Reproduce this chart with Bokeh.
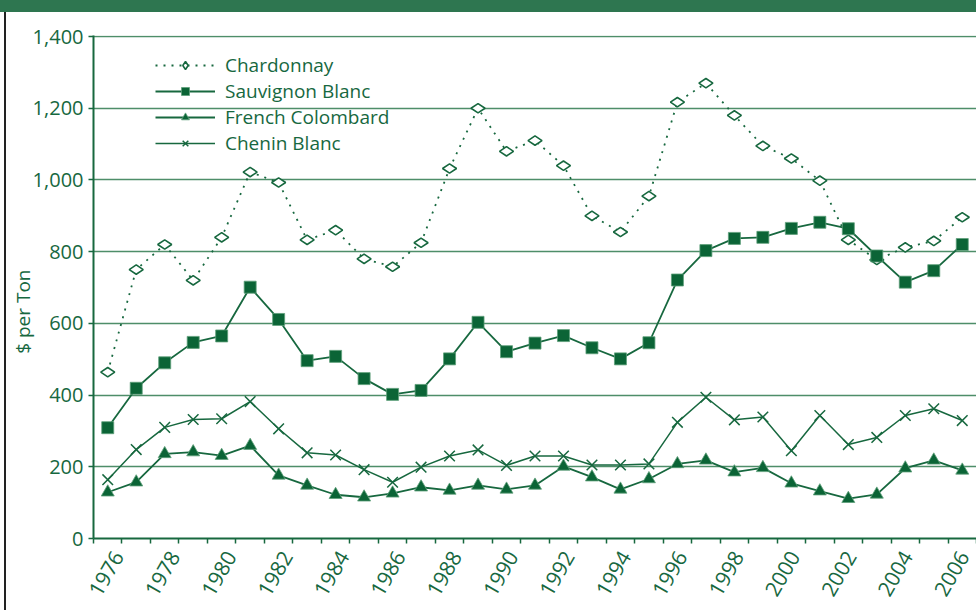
from bokeh.plotting import figure
from bokeh.models import Range1d, FixedTicker, NumeralTickFormatter, Legend, Div
from bokeh.layouts import column, row
from bokeh.embed import file_html
from bokeh.resources import INLINE
import math

years = list(range(1976, 2007))
chardonnay = [464, 750, 820, 720, 840, 1022, 993, 833, 860, 780, 758, 825, 1032, 1200, 1080,
              1110, 1040, 900, 855, 955, 1217, 1270, 1180, 1095, 1060, 998, 833, 777, 812, 830, 896]
sauvignon_blanc = [309, 419, 490, 547, 565, 701, 611, 496, 508, 446, 402, 413, 501, 603, 521,
                   545, 566, 532, 501, 546, 721, 803, 837, 840, 865, 882, 864, 788, 715, 747, 820]
french_colombard = [129, 157, 236, 241, 231, 259, 176, 148, 122, 115, 126, 143, 134, 148, 137,
                    148, 201, 171, 137, 166, 208, 218, 185, 197, 154, 132, 111, 123, 196, 218, 190]
chenin_blanc = [164, 248, 310, 332, 334, 382, 306, 239, 233, 192, 157, 199, 230, 247, 204,
                230, 230, 205, 205, 208, 324, 394, 331, 339, 245, 343, 262, 282, 343, 362, 329]
label_years = list(range(1976, 2007, 2))
y_ticks = [0, 200, 400, 600, 800, 1000, 1200, 1400]

GREEN = "#17683f"
MARK = "#0b6436"
FONT = "Open Sans"

banner = Div(text="", width=976, height=12,
             styles={"background-color": "#2e7650", "margin": "0", "padding": "0"})
gap = Div(text="", width=4, height=598, styles={"margin": "0", "padding": "0"})
edge = Div(text="", width=2, height=598,
           styles={"background-color": "#222222", "margin": "0", "padding": "0"})

p = figure(width=970, height=598, output_backend="svg", toolbar_location=None,
           x_range=Range1d(1975.5, 2006.5), y_range=Range1d(0, 1403),
           min_border_left=87, min_border_right=0, min_border_top=23, min_border_bottom=72)
p.outline_line_color = None
p.background_fill_color = "white"
p.border_fill_color = "white"

p.xgrid.grid_line_color = None
p.ygrid.ticker = FixedTicker(ticks=y_ticks[1:])
p.ygrid.grid_line_color = "#2f7a4f"
p.ygrid.grid_line_width = 1.5
p.ygrid.grid_line_alpha = 0.85

# labels sit slightly right of their year (drifting from ~10px to ~1px)
label_pos = [y + (10 - 0.3 * (y - 1976)) / 28.5 for y in label_years]
xa = p.xaxis[0]
xa.ticker = FixedTicker(ticks=label_pos, minor_ticks=[y - 0.5 for y in years] + [2006.5])
xa.major_label_overrides = {pos: str(y) for pos, y in zip(label_pos, label_years)}
xa.major_tick_line_color = None
xa.minor_tick_line_color = GREEN
xa.minor_tick_out = 5
xa.minor_tick_in = 0
xa.minor_tick_line_width = 1.5
xa.axis_line_color = GREEN
xa.axis_line_width = 2
xa.major_label_orientation = math.radians(60)
xa.major_label_text_font = FONT
xa.major_label_text_font_size = "21px"
xa.major_label_text_color = GREEN
xa.major_label_standoff = 8

ya = p.yaxis[0]
ya.ticker = FixedTicker(ticks=y_ticks)
ya.formatter = NumeralTickFormatter(format="0,0")
ya.major_tick_line_color = GREEN
ya.major_tick_out = 5
ya.major_tick_in = 0
ya.major_tick_line_width = 1.5
ya.minor_tick_line_color = None
ya.axis_line_color = GREEN
ya.axis_line_width = 2
ya.major_label_text_font = FONT
ya.major_label_text_font_size = "20px"
ya.major_label_text_color = GREEN
ya.major_label_standoff = 5
ya.axis_label = "$ per Ton" + "\u00a0" * 10
ya.axis_label_text_font = FONT
ya.axis_label_text_font_size = "19px"
ya.axis_label_text_font_style = "normal"
ya.axis_label_text_color = GREEN
ya.axis_label_standoff = -6

r1l = p.line(years, chardonnay, line_color=GREEN, line_width=1.8, line_dash="2 6")
r1m = p.scatter(years, chardonnay, marker="diamond", size=14, angle=math.pi / 2,
                fill_color="white", line_color=GREEN, line_width=1.6)
r2l = p.line(years, sauvignon_blanc, line_color=GREEN, line_width=1.8)
r2m = p.scatter(years, sauvignon_blanc, marker="square", size=12, fill_color=MARK,
                line_color="#5e9f7a", line_width=0.8)
r3l = p.line(years, french_colombard, line_color=GREEN, line_width=1.8)
r3m = p.scatter(years, french_colombard, marker="triangle", size=13, fill_color=MARK,
                line_color="#5e9f7a", line_width=0.8)
r4l = p.line(years, chenin_blanc, line_color=GREEN, line_width=1.5)
r4m = p.scatter(years, chenin_blanc, marker="x", size=15, line_color=GREEN, line_width=1.5)

legend = Legend(items=[("Chardonnay", [r1l, r1m]),
                       ("Sauvignon Blanc", [r2l, r2m]),
                       ("French Colombard", [r3l, r3m]),
                       ("Chenin Blanc", [r4l, r4m])],
                location=(62, 382))
legend.padding = 0
legend.margin = 0
legend.spacing = -4
legend.glyph_width = 60
legend.glyph_height = 20
legend.label_height = 20
legend.label_standoff = 10
legend.label_text_font = FONT
legend.label_text_font_size = "19px"
legend.label_text_color = GREEN
legend.border_line_color = None
legend.background_fill_alpha = 0
p.add_layout(legend)

layout = column(banner, row(gap, edge, p, spacing=0), spacing=0)
open("out.html", "w").write(file_html(layout, INLINE))
